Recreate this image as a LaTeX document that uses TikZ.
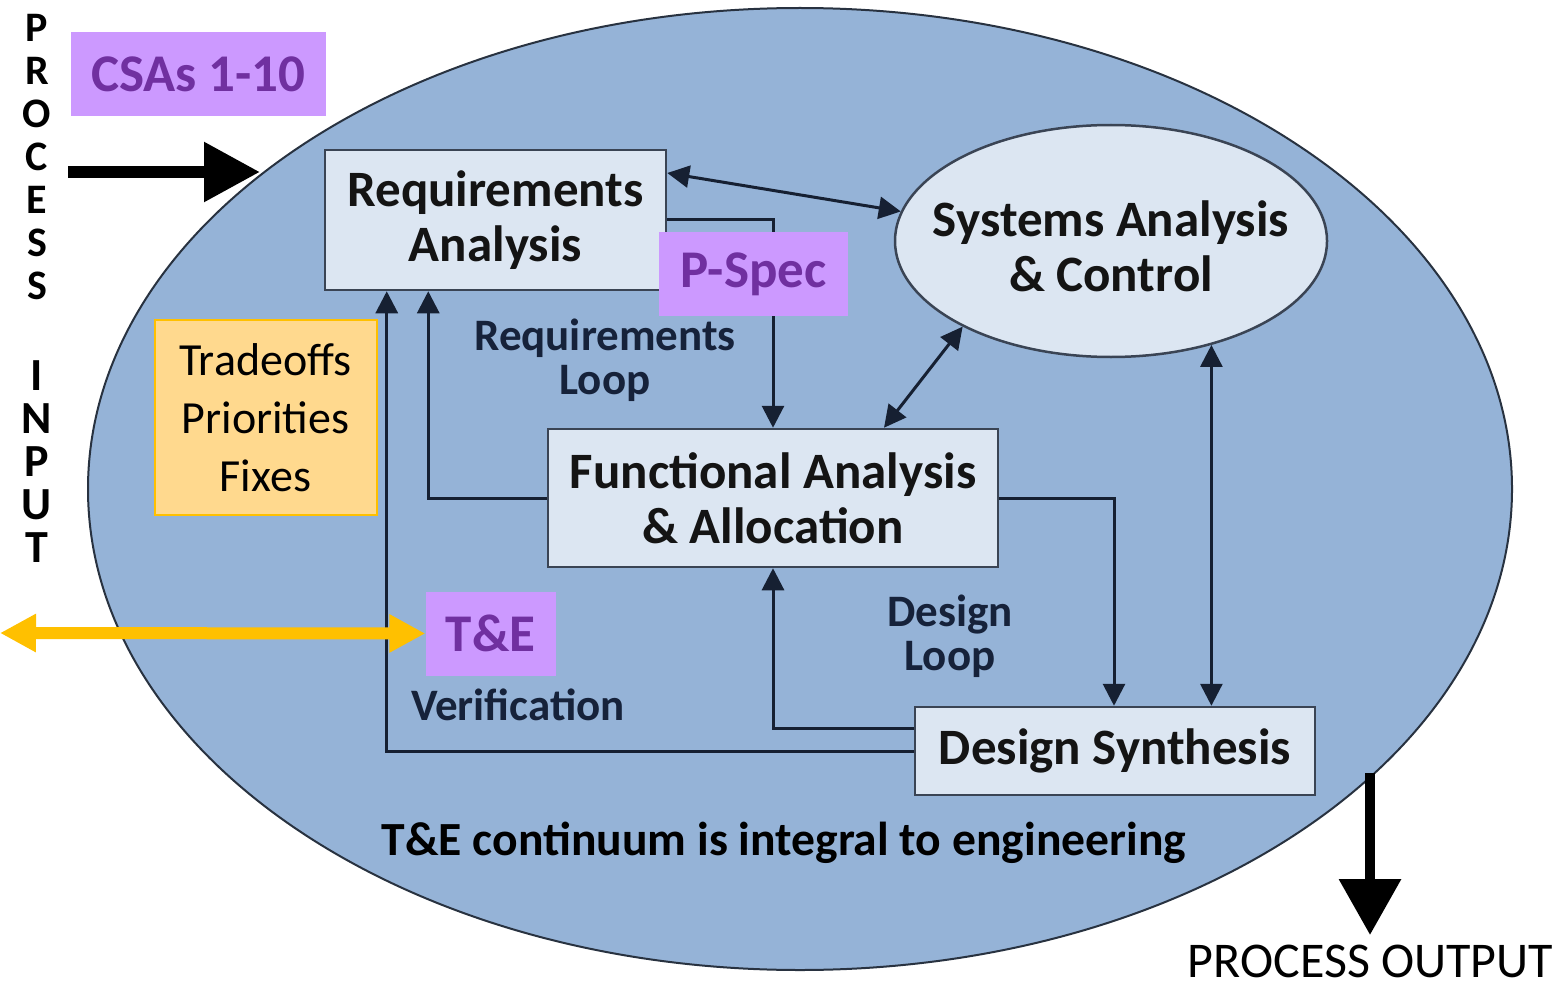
\documentclass[tikz,border=0pt]{standalone}
\usepackage{fontspec}
\setmainfont{Carlito}
\usetikzlibrary{arrows.meta,shapes.geometric,calc}
\definecolor{ellfill}{RGB}{149,179,215}
\definecolor{ellline}{RGB}{40,50,64}
\definecolor{boxfill}{RGB}{220,230,242}
\definecolor{boxline}{RGB}{58,68,84}
\definecolor{connc}{RGB}{22,32,50}
\definecolor{labc}{RGB}{22,34,58}
\definecolor{tagfill}{RGB}{204,153,255}
\definecolor{tagtext}{RGB}{112,48,160}
\definecolor{tofill}{RGB}{255,217,142}
\definecolor{toline}{RGB}{255,192,0}
\definecolor{gold}{RGB}{255,192,0}
\newcommand\setfs[2]{\fontsize{#1}{#2}\selectfont}
\begin{document}
\begin{tikzpicture}[x=1pt,y=-1pt,
  box/.style={draw=boxline, line width=2.5pt, fill=boxfill, inner sep=0pt, align=center, text=black!92, font=\bfseries\setfs{51}{55}},
  boxtext/.style={inner sep=0pt, align=center, text=black!92, font=\bfseries\setfs{51}{55}},
  conn/.style={draw=connc, line width=3pt},
  >={Triangle[length=22pt,width=22pt]},
  lab/.style={align=center, inner sep=0pt, text=labc, font=\bfseries\setfs{45}{44}},
  tag/.style={fill=tagfill, inner sep=0pt, text=tagtext, font=\bfseries\setfs{53}{60}},
]
\useasboundingbox (0,0) rectangle (1562,987);
% big ellipse
\node[draw=ellline, line width=2pt, fill=ellfill, ellipse, minimum width=1424pt, minimum height=962pt, inner sep=0pt] (big) at (800,489) {};

% boxes
\node[box, minimum width=341pt, minimum height=140pt] (ra) at (495.5,220) {Requirements\\Analysis};
\node[box, ellipse, minimum width=432pt, minimum height=232pt] (sac) at (1111,241) {};
\node[boxtext] (sact) at (1111,246) {Systems Analysis\\\&~Control};
\node[box, minimum width=450pt, minimum height=138pt] (fa) at (773,498) {Functional Analysis\\\&~Allocation};
\node[box, minimum width=400pt, minimum height=88pt] (ds) at (1115,751) {Design Synthesis};

% connectors
\draw[conn,<->] ([yshift=47pt]ra.east) -- (sac.172);
\draw[conn,->] ([yshift=1pt]ra.east) -| (fa.north);
\draw[conn,->] (fa.west) -| ([xshift=104.5pt]ra.south west);
\draw[conn,->] (ds.west) -| ([xshift=63pt]ra.south west);
\draw[conn,<->] ([xshift=111pt]fa.north) -- (sac.210);
\draw[conn,->] (fa.east) -| ([xshift=-1pt]ds.north);
\draw[conn,<->] (sac.314) -- (sac.314 |- ds.north);
\draw[conn,->] ([yshift=23pt]ds.west) -| (fa.south);

% loop labels
\node[lab] (rl) at (605,360) {Requirements\\Loop};
\node[lab] (dl) at (950,636) {Design\\Loop};
\node[lab] (ver) at (518,705) {Verification};
\node[inner sep=0pt, text=black, font=\bfseries\setfs{47.6}{50}] (cont) at (784,843) {T\&E continuum is integral to engineering};

% tags
\node[tag, minimum width=255pt, minimum height=84pt] (csa) at (198.5,74) {CSAs 1-10};
\node[tag, minimum width=189pt, minimum height=84pt] (ps) at (753.5,274) {P-Spec};
\node[tag, minimum width=130pt, minimum height=84pt] (te) at (490.5,633.5) {T\&E};
\node[draw=toline, line width=2pt, fill=tofill, minimum width=222pt, minimum height=195pt, inner sep=0pt, align=center, font=\setfs{46}{58}] (to) at (265.5,417.5) {Tradeoffs\\Priorities\\Fixes};

% process input / output
\node[align=center, inner sep=0pt, font=\bfseries\setfs{42}{43}] (pv) at (37,157) {P\\R\\O\\C\\E\\S\\S};
\node[align=center, inner sep=0pt, font=\bfseries\setfs{46}{43}] (iv) at (37,462) {I\\N\\P\\U\\T};
\coordinate (in1) at (68,172);
\coordinate (in2) at (260,172);
\draw[line width=12pt, -{Triangle[length=56pt,width=57pt]}] (in1) -- (in2);
\coordinate (out1) at (1370,773);
\coordinate (out2) at (1370,935);
\draw[line width=10pt, -{Triangle[length=56pt,width=60pt]}] (out1) -- (out2);
\node[inner sep=0pt, font=\setfs{50}{55}] (po) at (1370.5,961) {PROCESS OUTPUT};

% T&E double arrow
\coordinate (ya) at (0,633);
\draw[gold, line width=12pt, {Triangle[length=36pt,width=36pt]}-{Triangle[length=36pt,width=36pt]}] (ya) -- (te.west);
\end{tikzpicture}
\end{document}
